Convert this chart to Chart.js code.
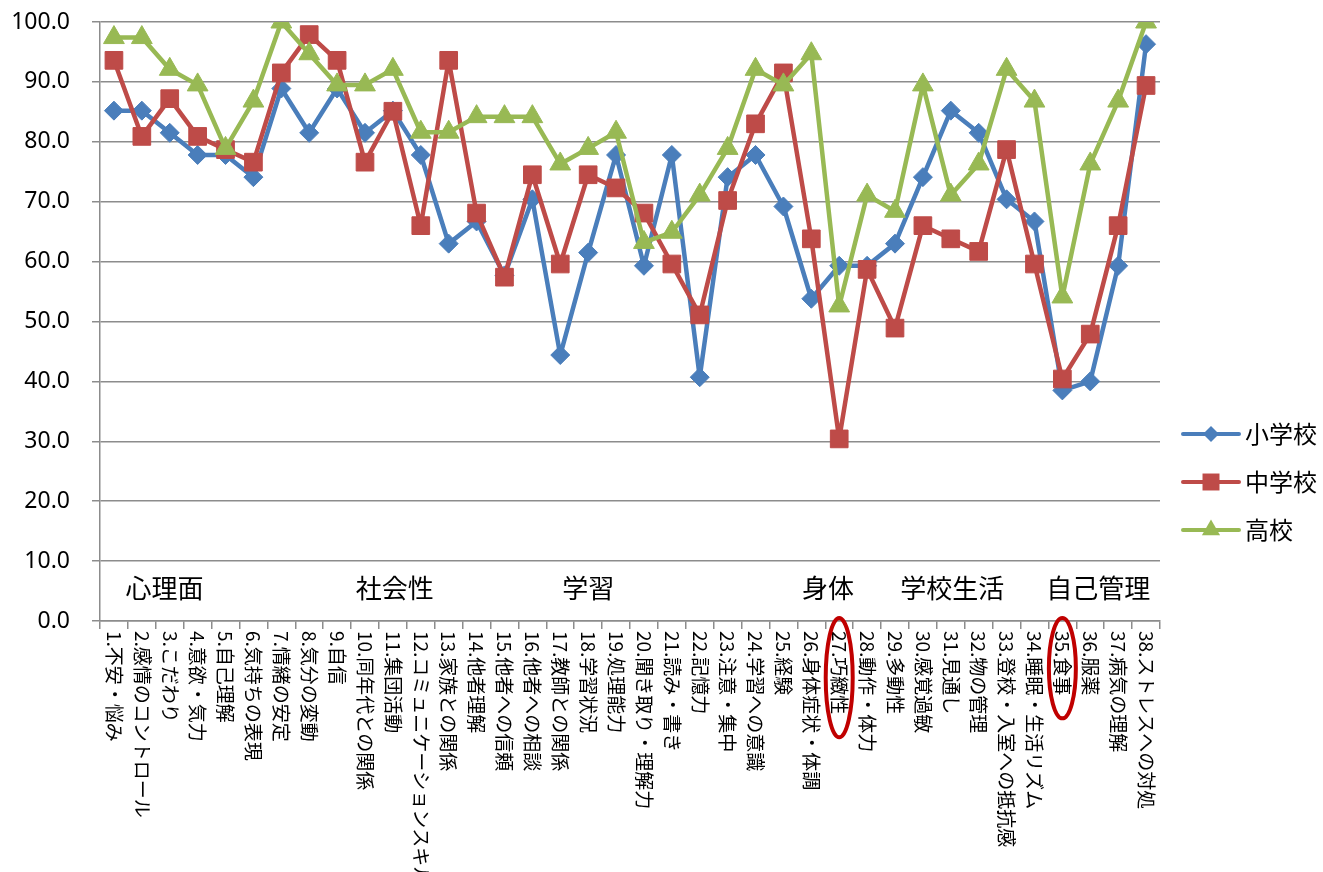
<!DOCTYPE html>
<html lang="ja">
<head>
<meta charset="utf-8">
<title>項目別達成率</title>
<script src="https://cdn.jsdelivr.net/npm/chart.js@4/dist/chart.umd.min.js"></script>
<style>
  html, body { margin: 0; padding: 0; background: #ffffff; }
  #wrap { width: 1323px; height: 872px; }
</style>
</head>
<body>
<div id="wrap"><canvas id="chart" width="1323" height="872"></canvas></div>
<script>
// ---- data ----
const categories = [
  '1.不安・悩み', '2.感情のコントロール', '3.こだわり', '4.意欲・気力', '5.自己理解',
  '6.気持ちの表現', '7.情緒の安定', '8.気分の変動', '9.自信', '10.同年代との関係',
  '11.集団活動', '12.コミュニケーションスキル', '13.家族との関係', '14.他者理解',
  '15.他者への信頼', '16.他者への相談', '17.教師との関係', '18.学習状況', '19.処理能力',
  '20.聞き取り・理解力', '21.読み・書き', '22.記憶力', '23.注意・集中', '24.学習への意識',
  '25.経験', '26.身体症状・体調', '27.巧緻性', '28.動作・体力', '29.多動性', '30.感覚過敏',
  '31.見通し', '32.物の管理', '33.登校・入室への抵抗感', '34.睡眠・生活リズム', '35.食事',
  '36.服薬', '37.病気の理解', '38.ストレスへの対処'
];

const seriesNames = ['小学校', '中学校', '高校'];

const elementary = [
  85.2, 85.2, 81.5, 77.8, 77.8, 74.1, 88.9, 81.5, 88.9, 81.5,
  85.2, 77.8, 63.0, 66.7, 57.7, 70.4, 44.4, 61.5, 77.8, 59.3,
  77.8, 40.7, 74.1, 77.8, 69.2, 53.8, 59.3, 59.3, 63.0, 74.1,
  85.2, 81.5, 70.4, 66.7, 38.5, 40.0, 59.3, 96.3
];

const juniorHigh = [
  93.6, 80.9, 87.2, 80.9, 78.7, 76.6, 91.5, 97.9, 93.6, 76.6,
  85.1, 66.0, 93.6, 68.1, 57.4, 74.5, 59.6, 74.5, 72.3, 68.1,
  59.6, 51.1, 70.2, 83.0, 91.5, 63.8, 30.4, 58.7, 48.9, 66.0,
  63.8, 61.7, 78.7, 59.6, 40.4, 47.9, 66.0, 89.4
];

const highSchool = [
  97.4, 97.4, 92.1, 89.5, 78.9, 86.8, 100.0, 94.7, 89.5, 89.5,
  92.1, 81.6, 81.6, 84.2, 84.2, 84.2, 76.3, 78.9, 81.6, 63.2,
  64.9, 71.1, 78.9, 92.1, 89.5, 94.7, 52.6, 71.1, 68.4, 89.5,
  71.1, 76.3, 92.1, 86.8, 54.1, 76.3, 86.8, 100.0
];

const yTickValues = [0, 10, 20, 30, 40, 50, 60, 70, 80, 90, 100];

const sectionNames = ['心理面', '社会性', '学習', '身体', '学校生活', '自己管理'];

const circledCategories = ['27.巧緻性', '35.食事'];

// ---- styling ----
const FONT_JP = '"Noto Sans CJK JP", "Noto Sans", sans-serif';
const FONT_NUM = '"Noto Sans", "Open Sans", sans-serif';
const GRID = '#8c8c8c';
const COLORS = ['#4A7EBB', '#BE4B48', '#98B954'];
const MARKERS = [
  { style: 'rectRot', radius: 9.5, legendRadius: 8 },
  { style: 'rect', radius: 12.5, legendRadius: 12 },
  { style: 'triangle', radius: 12, legendRadius: 10.5 }
];

function drawMarker(ctx, style, radius, x, y) {
  if (Chart.helpers && Chart.helpers.drawPoint) {
    Chart.helpers.drawPoint(ctx, { pointStyle: style, radius: radius, rotation: 0, borderWidth: 0 }, x, y);
  }
}

// category labels (read top to bottom), section captions, circled items and legend
const annotate = {
  id: 'annotate',
  afterDraw(chart, args, opts) {
    const ctx = chart.ctx;
    const xs = chart.scales.x;
    const ys = chart.scales.y;
    const area = chart.chartArea;
    ctx.save();

    // vertical category labels
    ctx.font = '19px ' + FONT_JP;
    ctx.fillStyle = '#000000';
    ctx.textAlign = 'left';
    ctx.textBaseline = 'middle';
    const top = xs.top + opts.labelGap;
    categories.forEach((lab, i) => {
      const x = xs.getPixelForValue(i);
      ctx.save();
      ctx.translate(x, top);
      ctx.rotate(Math.PI / 2);
      ctx.fillText(lab, 0, 0);
      ctx.restore();
    });

    // red rings around the highlighted items
    categories.forEach((lab, i) => {
      if (!circledCategories.includes(lab)) return;
      const x = xs.getPixelForValue(i);
      const w = ctx.measureText(lab).width;
      ctx.save();
      ctx.strokeStyle = '#C00000';
      ctx.lineWidth = 4;
      ctx.beginPath();
      ctx.ellipse(x, top + w / 2 + 5, 13.5, w / 2 + 18, 0, 0, Math.PI * 2);
      ctx.stroke();
      ctx.restore();
    });

    // section captions inside the plot
    ctx.font = '26px ' + FONT_JP;
    ctx.textAlign = 'center';
    ctx.textBaseline = 'middle';
    const cy = ys.getPixelForValue(opts.sectionValue);
    sectionNames.forEach((name, k) => {
      ctx.fillText(name, xs.getPixelForValue(opts.sectionAnchors[k]), cy);
    });

    // legend: line + marker + name
    const lx = area.right + 23;
    ctx.font = '24px ' + FONT_JP;
    ctx.textAlign = 'left';
    chart.data.datasets.forEach((ds, k) => {
      const y = opts.legendTop + k * opts.legendStep;
      ctx.strokeStyle = COLORS[k];
      ctx.fillStyle = COLORS[k];
      ctx.lineWidth = 4;
      ctx.lineCap = 'round';
      ctx.beginPath();
      ctx.moveTo(lx, y);
      ctx.lineTo(lx + 56, y);
      ctx.stroke();
      drawMarker(ctx, MARKERS[k].style, MARKERS[k].legendRadius, lx + 28, y);
      ctx.fillStyle = '#000000';
      ctx.fillText(ds.label, lx + 62, y);
    });
    ctx.restore();
  }
};

const seriesData = [elementary, juniorHigh, highSchool];

const datasets = seriesData.map((values, k) => ({
  label: seriesNames[k],
  data: values,
  borderColor: COLORS[k],
  backgroundColor: COLORS[k],
  borderWidth: 4.5,
  borderJoinStyle: 'round',
  borderCapStyle: 'round',
  tension: 0,
  pointStyle: MARKERS[k].style,
  pointRadius: MARKERS[k].radius,
  pointHoverRadius: MARKERS[k].radius,
  pointBackgroundColor: COLORS[k],
  pointBorderColor: COLORS[k],
  pointBorderWidth: 1,
  order: 3 - k
}));

new Chart(document.getElementById('chart'), {
  type: 'line',
  data: { labels: categories, datasets: datasets },
  plugins: [annotate],
  options: {
    responsive: false,
    animation: false,
    layout: { padding: { top: 22, right: 163, left: 0, bottom: 0 } },
    plugins: {
      legend: { display: false },
      tooltip: { enabled: false },
      annotate: {
        labelGap: 10,
        sectionValue: 5.5,
        sectionAnchors: [1.81, 10.07, 17.0, 25.6, 30.05, 35.29],
        legendTop: 434,
        legendStep: 48
      }
    },
    scales: {
      x: {
        type: 'category',
        offset: true,
        afterFit(scale) { scale.height = 251; },
        grid: {
          display: true,
          offset: true,
          drawOnChartArea: false,
          drawTicks: true,
          tickLength: 8,
          color: GRID,
          lineWidth: 1.5
        },
        border: { display: true, color: GRID, width: 1.5 },
        ticks: { display: false, autoSkip: false }
      },
      y: {
        min: 0,
        max: 100,
        afterFit(scale) {
          scale.width = 100;
          scale.paddingTop = 0;
          scale.paddingBottom = 0;
        },
        afterBuildTicks(scale) { scale.ticks = yTickValues.map(v => ({ value: v })); },
        grid: {
          color: GRID,
          lineWidth: 1.5,
          drawTicks: true,
          tickLength: 8
        },
        border: { display: true, color: GRID, width: 1.5 },
        ticks: {
          padding: 22,
          color: '#000000',
          font: { family: FONT_NUM, size: 23 },
          callback: v => Number(v).toFixed(1)
        }
      }
    }
  }
});
</script>
</body>
</html>
